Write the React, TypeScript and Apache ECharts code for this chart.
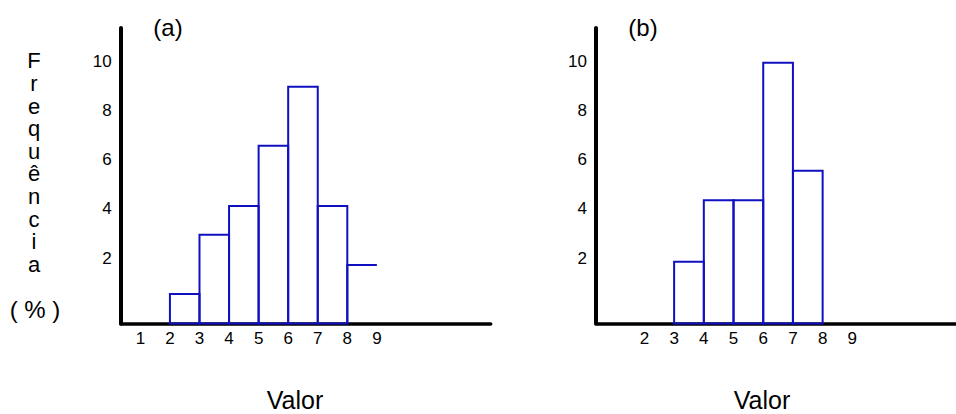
import React, { useEffect, useRef } from "react";
import * as echarts from "echarts";

// ---- data ----
const binEdgesA = [2, 3, 4, 5, 6, 7, 8, 9];
const valuesA = [0.55, 2.95, 4.12, 6.56, 8.96, 4.12, 1.72];
const binEdgesB = [3, 4, 5, 6, 7, 8];
const valuesB = [1.86, 4.35, 4.35, 9.93, 5.55];
const xTicksA = [1, 2, 3, 4, 5, 6, 7, 8, 9];
const xTicksB = [2, 3, 4, 5, 6, 7, 8, 9];
const yTicks = [2, 4, 6, 8, 10];
const panelTitles = ["(a)", "(b)"];
const xAxisTitle = "Valor";
const yAxisTitle = "Frequência";
const yAxisUnit = "( % )";

const BLUE = "#1010c0";
const FONT = "Liberation Sans, Arial, sans-serif";

function toBins(edges: number[], vals: number[]) {
  return vals.map((v, i) => [edges[i], edges[i + 1], v]);
}

function makeRender(openLast: boolean, count: number) {
  return (params: any, api: any) => {
    const x0 = api.value(0);
    const x1 = api.value(1);
    const v = api.value(2);
    const p0 = api.coord([x0, v]);
    const p1 = api.coord([x1, v]);
    const cs = params.coordSys;
    const base = cs.y + cs.height;
    const style = { stroke: BLUE, fill: "none", lineWidth: 2 };
    if (openLast && params.dataIndex === count - 1) {
      return {
        type: "polyline",
        shape: { points: [[p0[0], base], [p0[0], p0[1]], [p1[0], p1[1]]] },
        style,
      };
    }
    return {
      type: "rect",
      shape: { x: p0[0], y: p0[1], width: p1[0] - p0[0], height: base - p0[1] },
      style,
    };
  };
}

export default function App() {
  const ref = useRef<HTMLDivElement>(null);
  useEffect(() => {
    if (!ref.current) return;
    const chart = echarts.init(ref.current, undefined, { renderer: "svg" });
    const yMin = -0.65;
    const yMax = 11.34;
    const yAxisCommon = (gi: number) => ({
      type: "value",
      gridIndex: gi,
      min: yMin,
      max: yMax,
      splitLine: { show: false },
      axisTick: { show: false },
      axisLine: { show: true, onZero: false, lineStyle: { color: "#000", width: 4 } },
      axisLabel: {
        customValues: yTicks,
        color: "#000",
        fontFamily: FONT,
        fontSize: 17,
        margin: 9,
      },
    });
    const xAxisCommon = (gi: number, min: number, max: number, ticks: number[]) => ({
      type: "value",
      gridIndex: gi,
      min,
      max,
      splitLine: { show: false },
      axisTick: { show: false },
      axisLine: { show: true, onZero: false, lineStyle: { color: "#000", width: 3.5 } },
      axisLabel: {
        customValues: ticks,
        color: "#000",
        fontFamily: FONT,
        fontSize: 17,
        margin: 6,
      },
    });
    const option: any = {
      animation: false,
      backgroundColor: "#fff",
      grid: [
        { left: 120.7, top: 28, width: 370, height: 295.5 },
        { left: 596, top: 28, right: 0, height: 295.5 },
      ],
      xAxis: [
        xAxisCommon(0, 0.335, 12.85, xTicksA),
        xAxisCommon(1, 0.37, 12.49, xTicksB),
      ],
      yAxis: [yAxisCommon(0), yAxisCommon(1)],
      series: [
        {
          type: "custom",
          xAxisIndex: 0,
          yAxisIndex: 0,
          data: toBins(binEdgesA, valuesA),
          renderItem: makeRender(true, valuesA.length),
          z: 1,
        },
        {
          type: "custom",
          xAxisIndex: 1,
          yAxisIndex: 1,
          data: toBins(binEdgesB, valuesB),
          renderItem: makeRender(false, valuesB.length),
          z: 1,
        },
      ],
      graphic: [
        {
          type: "text",
          x: 168,
          y: 27,
          style: { text: panelTitles[0], font: `24px ${FONT}`, fill: "#000", align: "center", verticalAlign: "middle" },
        },
        {
          type: "text",
          x: 643,
          y: 27,
          style: { text: panelTitles[1], font: `24px ${FONT}`, fill: "#000", align: "center", verticalAlign: "middle" },
        },
        {
          type: "text",
          x: 295,
          y: 400,
          style: { text: xAxisTitle, font: `25px ${FONT}`, lineHeight: 22, fill: "#000", align: "center", verticalAlign: "middle" },
        },
        {
          type: "text",
          x: 762,
          y: 400,
          style: { text: xAxisTitle, font: `25px ${FONT}`, lineHeight: 22, fill: "#000", align: "center", verticalAlign: "middle" },
        },
        {
          type: "text",
          x: 34,
          y: 162.5,
          style: {
            text: Array.from(yAxisTitle).join("\n"),
            font: `22px ${FONT}`,
            lineHeight: 22.6,
            fill: "#000",
            align: "center",
            verticalAlign: "middle",
          },
        },
        {
          type: "text",
          x: 35,
          y: 309,
          style: { text: yAxisUnit, font: `24px ${FONT}`, fill: "#000", align: "center", verticalAlign: "middle" },
        },
      ],
    };
    chart.setOption(option);
    return () => chart.dispose();
  }, []);
  return (
    <div
      ref={ref}
      style={{ position: "fixed", left: 0, top: 0, width: 956, height: 414, background: "#fff" }}
    />
  );
}
